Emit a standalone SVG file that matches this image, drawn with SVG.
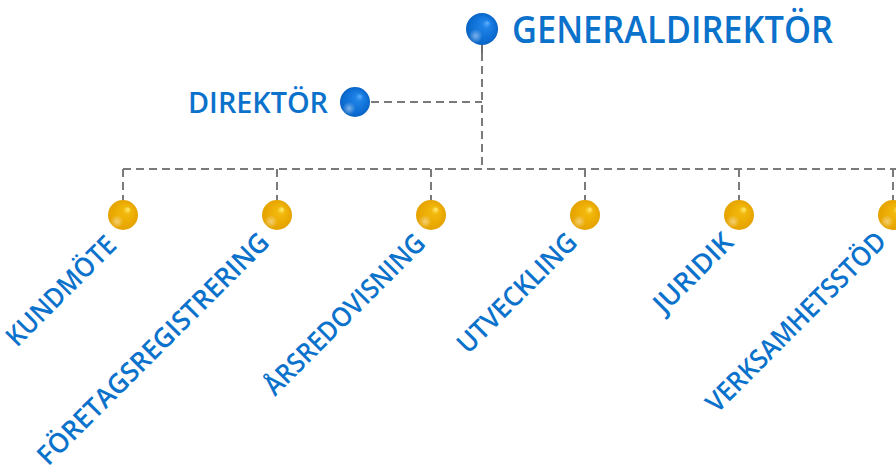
<svg xmlns="http://www.w3.org/2000/svg" width="896" height="475" viewBox="0 0 896 475">
<defs>
<radialGradient id="gBlue" cx="0.5" cy="0.5" r="0.5" fx="0.68" fy="0.3">
<stop offset="0" stop-color="#5fb0ff"/>
<stop offset="0.25" stop-color="#1f82e6"/>
<stop offset="0.85" stop-color="#0a6bd0"/>
<stop offset="1" stop-color="#0a62c0"/>
</radialGradient>
<radialGradient id="gOrange" cx="0.5" cy="0.5" r="0.5" fx="0.68" fy="0.3">
<stop offset="0" stop-color="#fff07a"/>
<stop offset="0.25" stop-color="#f2b80c"/>
<stop offset="0.85" stop-color="#e8a600"/>
<stop offset="1" stop-color="#e4a200"/>
</radialGradient>
<radialGradient id="gRefl" cx="0.3" cy="0.72" r="0.22">
<stop offset="0" stop-color="#ffffff" stop-opacity="0.45"/>
<stop offset="1" stop-color="#ffffff" stop-opacity="0"/>
</radialGradient>
</defs>
<style>
.dash{fill:none;stroke:#7a7a7a;stroke-width:2;stroke-dasharray:8,5}
.stem{stroke:#6e6e6e;stroke-width:2}
.lbl{font-family:"Open Sans","DejaVu Sans",sans-serif;font-weight:600;fill:#0b72cc}
.rot{font-size:27px;text-anchor:end}
</style>
<g id="connectors">
<line class="dash" x1="482" y1="53" x2="482" y2="169"/>
<line class="dash" x1="371" y1="102" x2="482" y2="102"/>
<line class="dash" x1="123" y1="169" x2="896" y2="169"/>
<line class="dash" x1="123" y1="169" x2="123" y2="200"/>
<line class="dash" x1="277" y1="169" x2="277" y2="200"/>
<line class="dash" x1="431" y1="169" x2="431" y2="200"/>
<line class="dash" x1="585" y1="169" x2="585" y2="200"/>
<line class="dash" x1="739" y1="169" x2="739" y2="200"/>
<line class="dash" x1="893" y1="169" x2="893" y2="200"/>
<line class="stem" x1="482" y1="44" x2="482" y2="53"/>
</g>
<g id="generaldirektor">
<circle cx="482" cy="29" r="16" fill="url(#gBlue)"/>
<circle cx="482" cy="29" r="16" fill="url(#gRefl)"/>
<text class="lbl" x="512" y="43" font-size="37" textLength="321" lengthAdjust="spacingAndGlyphs">GENERALDIREKTÖR</text>
</g>
<g id="direktor">
<circle cx="355" cy="102" r="15" fill="url(#gBlue)"/>
<circle cx="355" cy="102" r="15" fill="url(#gRefl)"/>
<text class="lbl" x="188" y="113" font-size="28" textLength="140" lengthAdjust="spacingAndGlyphs">DIREKTÖR</text>
</g>
<g id="kundmote">
<circle cx="123" cy="215" r="15" fill="url(#gOrange)"/>
<circle cx="123" cy="215" r="15" fill="url(#gRefl)"/>
<text class="lbl rot" transform="translate(118,247) rotate(-45)" textLength="143" lengthAdjust="spacingAndGlyphs">KUNDMÖTE</text>
</g>
<g id="foretagsregistrering">
<circle cx="277" cy="215" r="15" fill="url(#gOrange)"/>
<circle cx="277" cy="215" r="15" fill="url(#gRefl)"/>
<text class="lbl rot" transform="translate(271,244) rotate(-45)" textLength="315" lengthAdjust="spacingAndGlyphs">FÖRETAGSREGISTRERING</text>
</g>
<g id="arsredovisning">
<circle cx="431" cy="215" r="15" fill="url(#gOrange)"/>
<circle cx="431" cy="215" r="15" fill="url(#gRefl)"/>
<text class="lbl rot" transform="translate(427,245) rotate(-45)" textLength="215" lengthAdjust="spacingAndGlyphs">ÅRSREDOVISNING</text>
</g>
<g id="utveckling">
<circle cx="585" cy="215" r="15" fill="url(#gOrange)"/>
<circle cx="585" cy="215" r="15" fill="url(#gRefl)"/>
<text class="lbl rot" transform="translate(579,244) rotate(-45)" textLength="157" lengthAdjust="spacingAndGlyphs">UTVECKLING</text>
</g>
<g id="juridik">
<circle cx="739" cy="215" r="15" fill="url(#gOrange)"/>
<circle cx="739" cy="215" r="15" fill="url(#gRefl)"/>
<text class="lbl rot" transform="translate(735,244) rotate(-45)" textLength="100" lengthAdjust="spacingAndGlyphs">JURIDIK</text>
</g>
<g id="verksamhetsstod">
<circle cx="893" cy="215" r="15" fill="url(#gOrange)"/>
<circle cx="893" cy="215" r="15" fill="url(#gRefl)"/>
<text class="lbl rot" transform="translate(888,243) rotate(-45)" textLength="242" lengthAdjust="spacingAndGlyphs">VERKSAMHETSSTÖD</text>
</g>
</svg>
